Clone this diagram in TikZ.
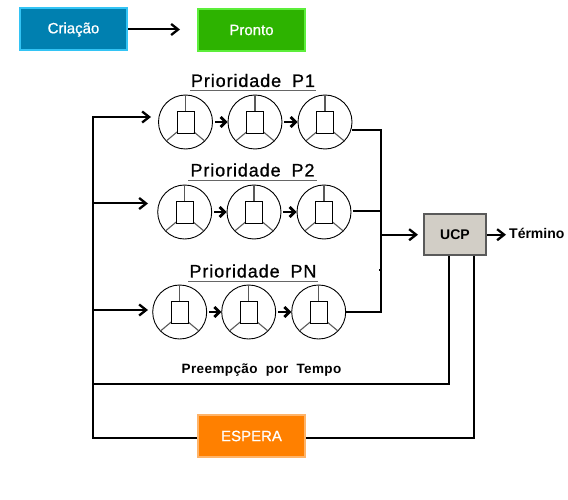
\documentclass[tikz,border=0pt]{standalone}
\usepackage{fontspec}
\setmainfont{Liberation Sans}
\newfontfamily\spaced[LetterSpace=5,FakeBold=0.8]{Liberation Sans}
\newfontfamily\semib[FakeBold=0.8]{Liberation Sans}
\newfontfamily\spacedb[LetterSpace=3]{Liberation Sans}
\usetikzlibrary{arrows.meta,calc}
\definecolor{blueF}{HTML}{0080B0}
\definecolor{blueB}{HTML}{33C4F5}
\definecolor{greenF}{HTML}{2DB300}
\definecolor{greenB}{HTML}{5CEE3A}
\definecolor{orangeF}{HTML}{FF8000}
\definecolor{orangeB}{HTML}{FFB469}
\definecolor{ucpF}{HTML}{D2CEC6}
\definecolor{ucpB}{HTML}{5A5A5A}
\tikzset{
  statebox/.style={minimum width=107pt,minimum height=42pt,inner sep=0pt,line width=2pt,text=white,font=\semib\fontsize{15}{17}\selectfont},
  proc/.style={circle,draw=black,line width=0.9pt,minimum size=54pt,inner sep=0pt},
  wire/.style={line width=2pt,draw=black},
  arr/.style={wire,-{Straight Barb[length=7pt,width=11pt,line width=2.3pt]}},
  sarr/.style={wire,shorten <=2pt,-{Straight Barb[length=5pt,width=10pt,line width=2.8pt]}},
  inner/.style={draw=black,line width=0.9pt},
  spoke/.style={draw=black!65,line width=1.1pt},
  title/.style={font=\spaced\fontsize{18}{20}\selectfont,inner sep=0pt,text=black},
  rule/.style={draw=black!60,line width=0.8pt},
}
\newcommand{\procnode}[3]{%
  \node[proc] (#1) at (#2,#3) {};
  \draw[spoke] (#1.north) -- ($(#1.center)+(0,-11)$);
  \draw[spoke] ($(#1.center)+(-8.5,10)$) -- ($(#1.center)+(-19,18.8)$);
  \draw[spoke] ($(#1.center)+(8.5,10)$) -- ($(#1.center)+(19,18.8)$);
  \draw[inner] ($(#1.center)+(-8.5,-11)$) rectangle ($(#1.center)+(8.5,11)$);
}
\begin{document}
\begin{tikzpicture}[x=1pt,y=-1pt]
\useasboundingbox (0,0) rectangle (568,500);
\fill[white] (0,0) rectangle (568,500);
\node[statebox,fill=blueF,draw=blueB] (cria) at (73.5,29.5) {Criação};
\node[statebox,fill=greenF,draw=greenB] (pronto) at (251.5,30) {Pronto};
\coordinate (prontoin) at (180,29.5);
\draw[arr] (cria.east |- 0,29.5) -- (prontoin);

\node[title] (t1) at (253,80.5) {Prioridade\hspace{5pt} P1};
\node[title] (t2) at (252.5,170) {Prioridade\hspace{5pt} P2};
\node[title] (t3) at (253,271) {Prioridade\hspace{5pt} PN};
\draw[rule] (190,90.5) -- (316,90.5);
\draw[rule] (188,180.5) -- (317,180.5);
\draw[rule] (188,281) -- (318,281);

\procnode{a1}{185.5}{122}
\procnode{a2}{255}{122}
\procnode{a3}{325}{122}
\procnode{b1}{184.7}{212}
\procnode{b2}{254}{212}
\procnode{b3}{324}{212}
\procnode{c1}{179.7}{312}
\procnode{c2}{248.7}{312}
\procnode{c3}{318.7}{312}
\draw[sarr] (a1) -- (a2);
\draw[sarr] (a2) -- (a3);
\draw[sarr] (b1) -- (b2);
\draw[sarr] (b2) -- (b3);
\draw[sarr] (c1) -- (c2);
\draw[sarr] (c2) -- (c3);

\node[minimum width=62pt,minimum height=41pt,inner sep=0pt,fill=ucpF,draw=ucpB,line width=2pt,font=\bfseries\fontsize{14}{16}\selectfont] (ucp) at (455,234.5) {UCP};
\node[anchor=west,inner sep=0pt,font=\bfseries\fontsize{14}{16}\selectfont] (fim) at (509,233.5) {Término};
\node[statebox,fill=orangeF,draw=orangeB] (espera) at (251.5,436) {ESPERA};
\node[font=\spacedb\bfseries\fontsize{13.5}{16}\selectfont,inner sep=0pt] (pre) at (261.5,370) {Preempção\hspace{4pt} por\hspace{4pt} Tempo};

% collectors
\coordinate (rtop) at (381,130);
\coordinate (rmid) at (381,234.7);
\coordinate (rbot) at (381,312);
\draw[wire] ($(a3.center)+(27,8)$) -- (rtop) -- (rbot) -- (c3.east);
\draw[wire] (b3.east) ++(1.5,-1) -- (381,211);
\draw[line width=1.2pt] (379,270) -- (381,270);
\draw[arr] (rmid) -- (418,234.7);
\coordinate (fimin) at (506,234.7);
\draw[arr] (ucp.east |- rmid) -- (fimin);

% feedback
\coordinate (ltop) at (93,117);
\coordinate (lmid) at (93,203.5);
\coordinate (lpre) at (93,383.5);
\coordinate (lbot) at (93,437.5);
\coordinate (lc) at (93,310);
\draw[wire] ($(ucp.south)+(-6,0)$) -- (449,383.5) -- (lpre);
\draw[wire] ($(ucp.south)+(19,0)$) -- (474,437.5) -- (espera.east |- 0,437.5);
\draw[wire] (espera.west |- 0,437.5) -- (lbot) -- (ltop);
\draw[arr] (92,117) -- (151,117);
\draw[arr] (lmid) -- (148,203.5);
\draw[arr] (lc) -- (148,310);
\end{tikzpicture}
\end{document}
